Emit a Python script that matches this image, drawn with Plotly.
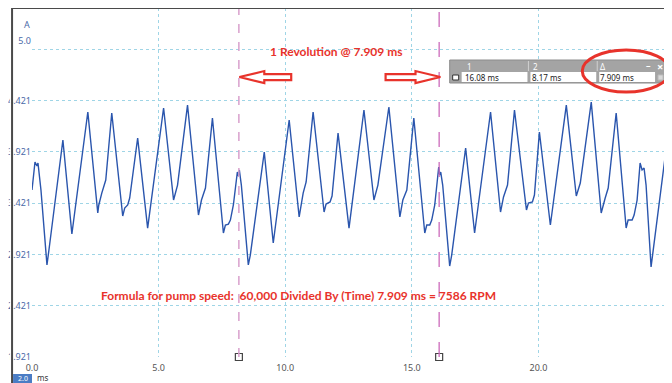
import plotly.graph_objects as go

# ---------------- data ----------------
time_ms = [
    0.000, 0.118, 0.197, 0.236, 0.354, 0.591, 0.669, 1.220, 1.575, 2.205,
    2.598, 2.638, 2.756, 2.913, 3.150, 3.583, 3.661, 3.780, 3.858, 4.173,
    4.567, 5.197, 5.591, 5.748, 6.142, 6.575, 6.693, 6.850, 7.126, 7.559,
    7.638, 7.756, 7.835, 7.953, 8.110, 8.150, 8.189, 8.268, 8.543,
    8.622, 9.173, 9.528, 10.157, 10.551, 10.709, 10.827, 11.102, 11.535, 11.614,
    11.772, 11.850, 12.087, 12.520, 13.110, 13.504, 13.661, 14.094, 14.528, 14.646,
    14.803, 15.079, 15.512, 15.591, 15.709, 15.787, 15.906, 16.063, 16.102, 16.142,
    16.220, 16.496,
    16.575, 17.126, 17.480, 18.110, 18.504, 18.622, 18.780, 19.055, 19.528, 19.606,
    19.764, 19.843, 20.039, 20.472, 21.102, 21.496, 21.654, 22.087, 22.480, 22.638,
    22.756, 23.071, 23.465, 23.543, 23.701, 23.780, 23.898, 24.016, 24.094, 24.173,
    24.252, 24.449, 24.528, 25.079, 25.276,
]
current_a = [
    3.549, 3.822, 3.783, 3.812, 3.549, 2.818, 2.964, 4.036, 3.120, 4.309,
    3.325, 3.403, 3.519, 3.646, 4.299, 3.295, 3.373, 3.403, 3.471, 4.056,
    3.178, 4.348, 3.451, 3.597, 4.377, 3.305, 3.451, 3.568, 4.251, 3.130,
    3.208, 3.217, 3.256, 3.403, 3.724, 3.685, 3.744, 3.597, 2.818,
    2.915, 3.919, 3.032, 4.231, 3.286, 3.519, 3.627, 4.309, 3.334, 3.412,
    3.432, 3.490, 4.104, 3.178, 4.329, 3.451, 3.597, 4.358, 3.286, 3.451,
    3.549, 4.251, 3.130, 3.208, 3.208, 3.256, 3.403, 3.773, 3.695, 3.724,
    3.597, 2.808,
    2.915, 3.958, 3.130, 4.309, 3.334, 3.481, 3.597, 4.329, 3.354, 3.422,
    3.432, 3.500, 4.114, 3.208, 4.377, 3.490, 3.617, 4.406, 3.325, 3.471,
    3.568, 4.299, 3.178, 3.256, 3.256, 3.305, 3.451, 3.812, 3.744, 3.763,
    3.597, 2.798, 2.944, 4.017, 3.675,
]

cursor_ms = [8.17, 16.08]
cursor_labels = ["16.08 ms", "8.17 ms", "7.909 ms"]
table_headers = ["1", "2", "\u0394"]

x_ticks = [0.0, 5.0, 10.0, 15.0, 20.0, 25.0]
x_tick_text = ["0.0", "5.0", "10.0", "15.0", "20.0", "25.0"]
y_grid = [1.921, 2.421, 2.921, 3.421, 3.921, 4.421, 4.921]
y_label_vals = [1.921, 2.421, 2.921, 3.421, 3.921, 4.421, 5.0]
y_label_text = ["1.921", "2.421", "2.921", "3.421", "3.921", "4.421", "5.0"]

title_text = "1 Revolution @ 7.909 ms"
formula_text = "Formula for pump speed:\u00a0 60,000 Divided By (Time) 7.909 ms = 7586 RPM"

# ---------------- layout geometry ----------------
# the page body has an 8 px margin, so the figure starts at screen (8, 8)
OFF = 8
W, H = 664, 375
ML, MR, MT, MB = 22, 0, 0, 26
X_RANGE = [0.0, 25.276]
Y_RANGE = [1.921, 5.323]
PX_PER_MS = (W - ML - MR) / (X_RANGE[1] - X_RANGE[0])
PX_PER_A = (H - MT - MB) / (Y_RANGE[1] - Y_RANGE[0])


def pxx(X):
    """screen x pixel -> paper fraction"""
    return (X - OFF - ML) / (W - ML - MR)


def pxy(Y):
    """screen y pixel -> paper fraction"""
    return (H - MB - (Y - OFF)) / (H - MT - MB)


GRID = "#9fd5e6"
RED = "#e8332b"
TRACE = "#2a55ad"
FONT = "Noto Sans"

fig = go.Figure()

fig.add_trace(go.Scatter(
    x=time_ms, y=current_a, mode="lines",
    line=dict(color=TRACE, width=1.4), hoverinfo="skip", showlegend=False,
))

# cursor handle markers at the bottom
fig.add_trace(go.Scatter(
    x=cursor_ms, y=[Y_RANGE[0]] * len(cursor_ms), mode="markers", yaxis="y2",
    marker=dict(symbol="square", size=7, color="white",
                line=dict(color="#444444", width=1.2)),
    cliponaxis=False, hoverinfo="skip", showlegend=False,
))

shapes = []

# cursor lines
shapes.append(dict(type="line", xref="x", yref="paper", x0=cursor_ms[0], x1=cursor_ms[0],
                   y0=0, y1=1, line=dict(color="#d9a1cd", width=1.5, dash="dash"), layer="above"))
shapes.append(dict(type="line", xref="x", yref="paper", x0=cursor_ms[1], x1=cursor_ms[1],
                   y0=0, y1=1, line=dict(color="#cc6bbb", width=1.3, dash="longdash"), layer="above"))

# hollow block arrows (sizes in px converted to data units)
ARROW_Y = 4.65
head_half = 6 / PX_PER_A
shaft_half = 3 / PX_PER_A


def block_arrow(tip, direction, head_len_px, total_len_px):
    hl = head_len_px / PX_PER_MS * direction
    tl = total_len_px / PX_PER_MS * direction
    pts = [
        (tip, ARROW_Y),
        (tip - hl, ARROW_Y + head_half),
        (tip - hl, ARROW_Y + shaft_half),
        (tip - tl, ARROW_Y + shaft_half),
        (tip - tl, ARROW_Y - shaft_half),
        (tip - hl, ARROW_Y - shaft_half),
        (tip - hl, ARROW_Y - head_half),
    ]
    return "M " + " L ".join(f"{x:.4f},{y:.4f}" for x, y in pts) + " Z"


shapes.append(dict(type="path", xref="x", yref="y", path=block_arrow(cursor_ms[0] + 0.02, -1, 25, 52),
                   line=dict(color=RED, width=2.2), fillcolor="white", layer="above"))
shapes.append(dict(type="path", xref="x", yref="y", path=block_arrow(cursor_ms[1] + 0.05, 1, 25, 55),
                   line=dict(color=RED, width=2.2), fillcolor="white", layer="above"))


def prect(x0, y0, x1, y1, **kw):
    d = dict(type="rect", xref="paper", yref="paper",
             x0=pxx(x0), x1=pxx(x1), y0=pxy(y1), y1=pxy(y0), layer="above")
    d.update(kw)
    return d


def pline(x0, y0, x1, y1, **kw):
    d = dict(type="line", xref="paper", yref="paper",
             x0=pxx(x0), x1=pxx(x1), y0=pxy(y0), y1=pxy(y1), layer="above")
    d.update(kw)
    return d


# measurement table
shapes.append(prect(449, 60, 665, 83, fillcolor="#a4a4a4", line=dict(color="#8c8c8c", width=1)))
for cx0, cx1 in [(461, 527), (530, 596), (599, 655)]:
    shapes.append(prect(cx0, 72, cx1, 82, fillcolor="white", line=dict(width=0)))
shapes.append(pline(528, 61, 528, 71, line=dict(color="#d0d0d0", width=1)))
shapes.append(pline(597, 61, 597, 71, line=dict(color="#d0d0d0", width=1)))
shapes.append(prect(452, 75, 458, 80, fillcolor="white", line=dict(color="#333333", width=1)))
shapes.append(prect(658, 75, 663, 80, fillcolor="#d8d8d8", line=dict(color="#bbbbbb", width=1)))

# red ellipse around delta
shapes.append(dict(type="circle", xref="paper", yref="paper",
                   x0=pxx(582), x1=pxx(670), y0=pxy(92), y1=pxy(50),
                   line=dict(color=RED, width=3), layer="above"))

# window frame: white strip + dark border
shapes.append(prect(8, 8, 10, 383, fillcolor="white", line=dict(width=0)))
shapes.append(pline(10, 8, 10, 383, line=dict(color="#4a4a4a", width=2)))
shapes.append(pline(10, 8, 672, 8, line=dict(color="#4a4a4a", width=2)))
# bottom-left unit box
shapes.append(prect(11, 374, 30, 383, fillcolor="#4a7cc4", line=dict(width=0)))

annotations = []


def ptext(X, Y, text, size=9, color="#333333", anchor="left", bold=False, family=FONT):
    annotations.append(dict(
        xref="paper", yref="paper", x=pxx(X), y=pxy(Y), text=f"<b>{text}</b>" if bold else text,
        showarrow=False, xanchor=anchor, yanchor="middle",
        font=dict(size=size, color=color, family=family),
    ))


ptext(335, 52, title_text, size=12, color=RED, anchor="center", bold=True, family="Lato")
ptext(297, 295, formula_text, size=12, color=RED, anchor="center", bold=True, family="Lato")
ptext(25, 24, "A", size=9, color="#4a6aa8", anchor="center")

for (hx, txt) in zip([464, 531, 598], table_headers):
    ptext(hx, 66, txt, size=8, color="white")
for (dx, txt) in zip([462, 530, 598], cursor_labels):
    ptext(dx, 77.5, txt, size=8, color="#222222")
ptext(648, 65, "\u2013", size=9, color="white", anchor="center", bold=True)
ptext(660, 66, "\u00d7", size=11, color="white", anchor="center", bold=True)
ptext(20.5, 378, "2.0", size=7, color="white", anchor="center")
ptext(33, 377.5, "ms", size=8, color="#333333")

fig.update_layout(
    width=W, height=H,
    margin=dict(l=ML, r=MR, t=MT, b=MB, pad=0),
    paper_bgcolor="white", plot_bgcolor="white",
    showlegend=False,
    xaxis=dict(range=X_RANGE, tickvals=x_ticks, ticktext=x_tick_text,
               showgrid=True, gridcolor=GRID, griddash="dot", gridwidth=1,
               zeroline=False, showline=False, ticks="", ticklabelstandoff=4,
               tickfont=dict(size=9, color="#555555", family=FONT)),
    yaxis=dict(range=Y_RANGE, tickvals=y_grid, showticklabels=False,
               showgrid=True, gridcolor=GRID, griddash="dot", gridwidth=1,
               zeroline=False, showline=False, ticks=""),
    yaxis2=dict(range=Y_RANGE, overlaying="y", side="left", anchor="x",
                tickvals=y_label_vals, ticktext=y_label_text, showgrid=False,
                zeroline=False, showline=False, ticks="",
                tickfont=dict(size=9, color="#4a6aa8", family=FONT)),
    shapes=shapes,
    annotations=annotations,
)

fig.write_html("out.html")
